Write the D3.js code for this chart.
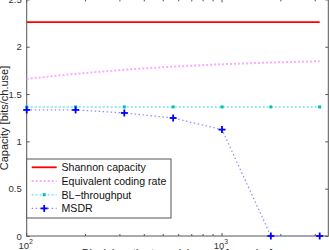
<!DOCTYPE html>
<html lang="en">
<head>
  <meta charset="UTF-8">
  <script src="https://d3js.org/d3.v7.min.js"></script>
  <title>Capacity vs block length</title>
  <style>
    body { margin: 0; background: #fff; }
    text { font-family: "Liberation Sans", Arial, sans-serif; }
  </style>
</head>
<body>
  <svg width="329" height="250"></svg>
  <script>
    // block lengths (log spaced)
    const blockLen = [100, 178, 316, 562, 1000, 1778, 3162];
    const shannon = [2.26, 2.26, 2.26, 2.26, 2.26, 2.26, 2.26];
    const codingRate = [1.66, 1.714, 1.757, 1.79, 1.815, 1.833, 1.847];
    const blThroughput = [1.364, 1.364, 1.364, 1.364, 1.364, 1.364, 1.364];
    const msdr = [1.332, 1.332, 1.30, 1.247, 1.124, 0, 0];

    const yTicks = [0, 0.5, 1, 1.5, 2, 2.5];
    const xMajor = [100, 1000];
    const xMinor = [200, 300, 400, 500, 600, 700, 800, 900, 2000, 3000];
    const legendNames = ["Shannon capacity", "Equivalent coding rate", "BL\u2212throughput", "MSDR"];

    const svg = d3.select("svg");
    const pLeft = 26.7, pRight = 328.3, pTop = -0.6, pBottom = 236;

    const x = d3.scaleLog().domain([100, 3500]).range([pLeft, pRight]);
    const y = d3.scaleLinear().domain([0, 2.5]).range([pBottom, pTop]);

    const axisCol = "#555";

    // box
    svg.append("rect")
      .attr("x", pLeft).attr("y", pTop)
      .attr("width", pRight - pLeft).attr("height", pBottom - pTop)
      .attr("fill", "none").attr("stroke", axisCol).attr("stroke-width", 1);

    // y ticks (inside, both sides)
    const yAxis = d3.axisLeft(y).tickValues(yTicks).tickSize(-3).tickPadding(5)
      .tickFormat(d3.format("~g"));
    const yg = svg.append("g").attr("transform", `translate(${pLeft},0)`).call(yAxis);
    yg.select(".domain").remove();
    yg.selectAll("line").attr("stroke", axisCol);
    yg.selectAll("text").attr("font-size", 9.5).attr("fill", "#333")
      .attr("font-family", "Liberation Sans, Arial, sans-serif");

    const yg2 = svg.append("g").attr("transform", `translate(${pRight},0)`)
      .call(d3.axisRight(y).tickValues(yTicks).tickSize(-3).tickFormat(""));
    yg2.select(".domain").remove();
    yg2.selectAll("line").attr("stroke", axisCol);

    // x ticks (inside, bottom and top)
    [[pBottom, -1], [pTop, 1]].forEach(([yy, dir]) => {
      svg.append("g").selectAll("line").data(xMajor.concat(xMinor)).join("line")
        .attr("x1", d => x(d)).attr("x2", d => x(d))
        .attr("y1", yy).attr("y2", d => yy + dir * (xMajor.includes(d) ? 3 : 2))
        .attr("stroke", axisCol).attr("stroke-width", 1);
    });

    // x tick labels 10^n
    const xl = svg.append("g").selectAll("text").data(xMajor).join("text")
      .attr("x", d => x(d) - 1)
      .attr("y", 249)
      .attr("text-anchor", "middle")
      .attr("font-size", 9.5)
      .attr("fill", "#333");
    xl.append("tspan").text("10");
    xl.append("tspan").attr("dy", -5).attr("font-size", 7).text(d => Math.round(Math.log10(d)));

    // axis labels
    svg.append("text")
      .attr("transform", `translate(8,118) rotate(-90)`)
      .attr("text-anchor", "middle")
      .attr("font-size", 11)
      .attr("fill", "#222")
      .text("Capacity [bits/ch.use]");

    svg.append("text")
      .attr("x", (pLeft + pRight) / 2).attr("y", 257)
      .attr("text-anchor", "middle")
      .attr("font-size", 11)
      .attr("fill", "#222")
      .text("Block length at receiving end [samples]");

    const line = vals => d3.line().x((d, i) => x(blockLen[i])).y(d => y(d))(vals);

    // Shannon
    svg.append("path").attr("d", line(shannon))
      .attr("fill", "none").attr("stroke", "#ff0000").attr("stroke-width", 1.8);

    // equivalent coding rate
    svg.append("path").attr("d", line(codingRate))
      .attr("fill", "none").attr("stroke", "#ffa8ff").attr("stroke-width", 2)
      .attr("stroke-dasharray", "2,2");

    // BL-throughput
    svg.append("path").attr("d", line(blThroughput))
      .attr("fill", "none").attr("stroke", "#9ee8e8").attr("stroke-width", 2)
      .attr("stroke-dasharray", "2,2");
    svg.append("g").selectAll("rect").data(blThroughput).join("rect")
      .attr("x", (d, i) => x(blockLen[i]) - 1.5).attr("y", d => y(d) - 1.5)
      .attr("width", 3).attr("height", 3).attr("fill", "#00bfbf");

    // MSDR
    svg.append("path").attr("d", line(msdr))
      .attr("fill", "none").attr("stroke", "#8c8cff").attr("stroke-width", 1.2)
      .attr("stroke-dasharray", "1.5,2.5");
    const plus = (g, cx, cy, s) => {
      g.append("line").attr("x1", cx - s).attr("x2", cx + s).attr("y1", cy).attr("y2", cy)
        .attr("stroke", "#0000ff").attr("stroke-width", 1.8);
      g.append("line").attr("x1", cx).attr("x2", cx).attr("y1", cy - s).attr("y2", cy + s)
        .attr("stroke", "#0000ff").attr("stroke-width", 1.8);
    };
    const mg = svg.append("g");
    msdr.forEach((d, i) => plus(mg, x(blockLen[i]), y(d), 3.5));

    // legend
    const lg = svg.append("g");
    lg.append("rect").attr("x", pLeft).attr("y", 159).attr("width", 171 - pLeft).attr("height", 59)
      .attr("fill", "#fff").attr("stroke", axisCol).attr("stroke-width", 1);
    const rowY = i => 167.3 + i * 13.7;
    const styles = [
      { stroke: "#ff0000", w: 1.8, dash: null },
      { stroke: "#ffa8ff", w: 2, dash: "2,2" },
      { stroke: "#9ee8e8", w: 2, dash: "2,2" },
      { stroke: "#8c8cff", w: 1.2, dash: "1.5,2.5" }
    ];
    legendNames.forEach((name, i) => {
      lg.append("line").attr("x1", 31.7).attr("x2", 56.7).attr("y1", rowY(i)).attr("y2", rowY(i))
        .attr("stroke", styles[i].stroke).attr("stroke-width", styles[i].w)
        .attr("stroke-dasharray", styles[i].dash);
      lg.append("text").attr("x", 61.5).attr("y", rowY(i) + 3.8)
        .attr("font-size", 10.6).attr("fill", "#111").text(name);
    });
    lg.append("rect").attr("x", 42.7).attr("y", rowY(2) - 1.5).attr("width", 3).attr("height", 3)
      .attr("fill", "#00bfbf");
    plus(lg, 44.2, rowY(3), 3.5);
  </script>
</body>
</html>
